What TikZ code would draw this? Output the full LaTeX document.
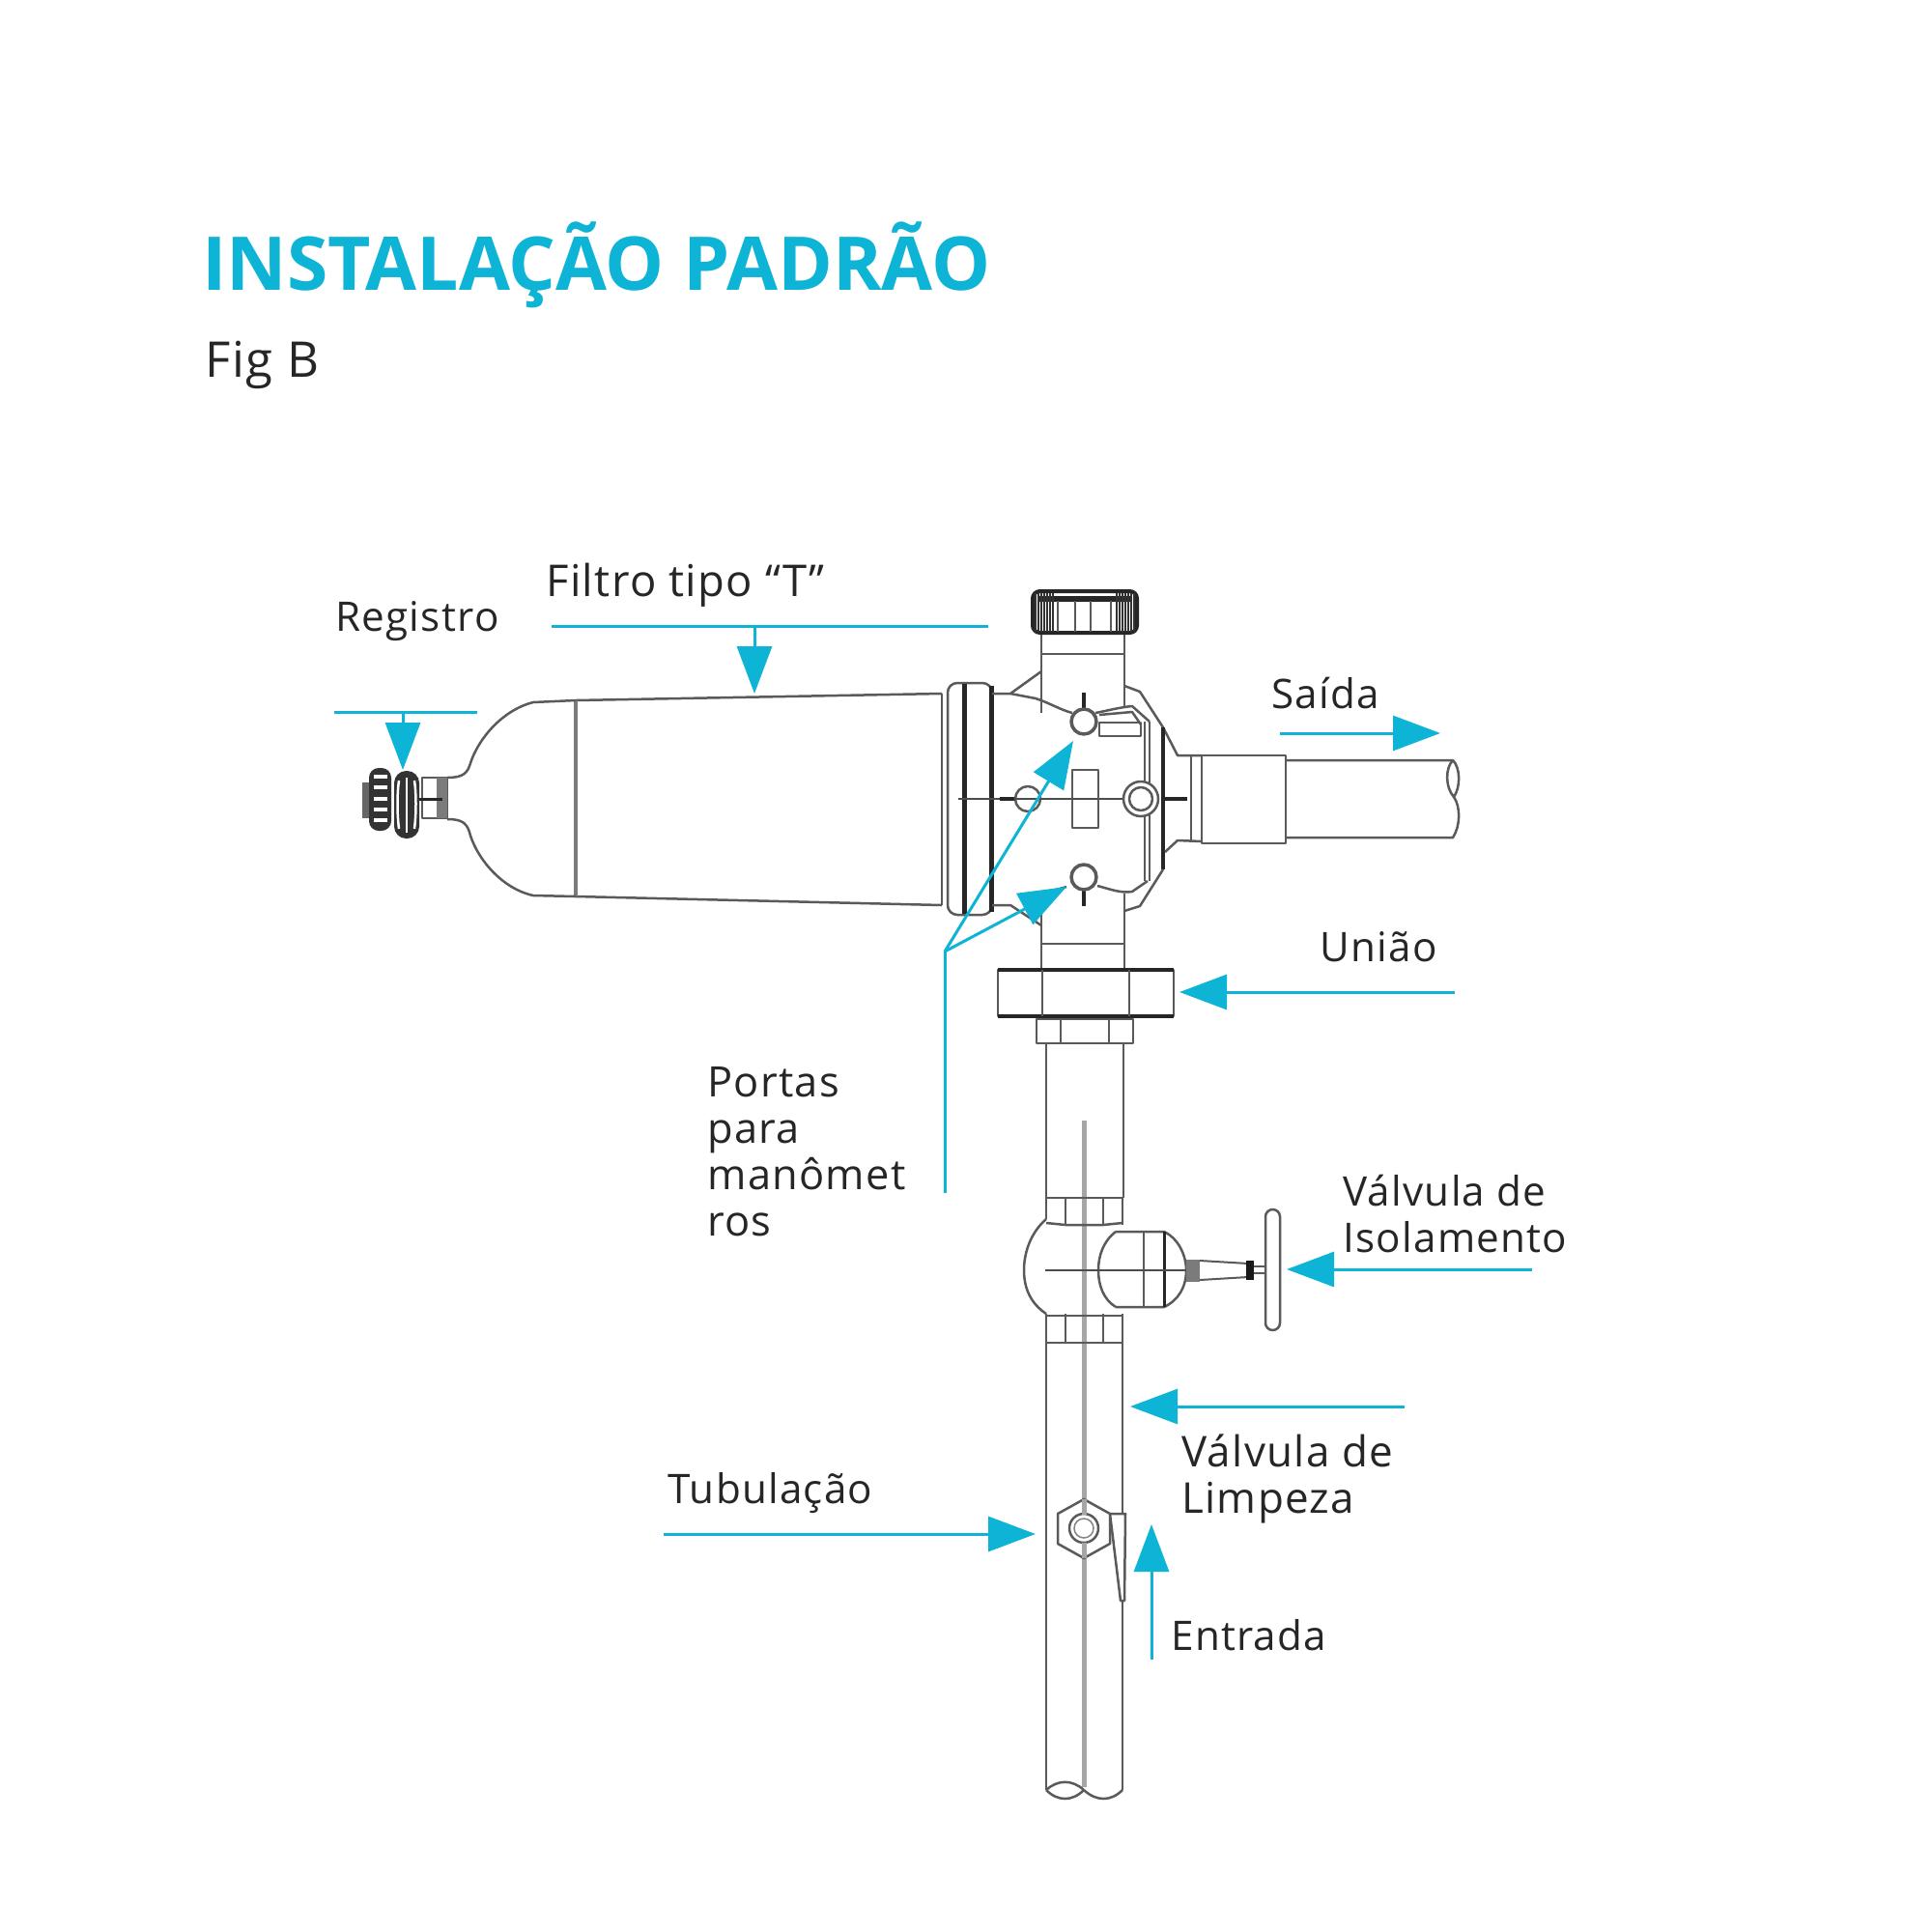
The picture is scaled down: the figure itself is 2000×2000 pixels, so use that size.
\documentclass[tikz,border=0pt]{standalone}
\usepackage{fontspec}
\setmainfont{Open Sans}
\newfontfamily\labfont[LetterSpace=3]{Open Sans}
\newfontfamily\titlefont{Open Sans}[BoldFont={Open Sans Bold}]
\usetikzlibrary{arrows.meta}
\definecolor{cy}{HTML}{0DB4D6}
\definecolor{ink}{HTML}{262626}
\definecolor{pg}{HTML}{5A5A5A}
\tikzset{
  pl/.style={draw=pg,line width=0.5mm,line join=round},
  pt/.style={draw=pg!75,line width=0.3mm},
  pb/.style={draw=black!85,line width=0.9mm},
  pc/.style={draw=black!35,line width=1mm},
  ctr/.style={draw=black!70,line width=0.35mm},
  bar/.style={draw=cy,line width=0.6mm},
  leader/.style={draw=cy,line width=0.6mm,-{Triangle[length=9.8mm,width=7.2mm]}},
  lab/.style={font=\labfont\fontsize{#1}{27.2}\selectfont,text=ink,anchor=base west,inner sep=0,align=left},
  lab/.default=24,
  ttl/.style={font=\titlefont\bfseries\fontsize{43.7}{50}\selectfont,text=cy,anchor=base west,inner sep=0}
}
\begin{document}
\begin{tikzpicture}[x=0.2mm,y=-0.2mm]
\useasboundingbox (0,0) rectangle (2000,2000);
\fill[white] (0,0) rectangle (2000,2000);

% === tank and dome ===
\draw[pl] (596,725) -- (975,718);
\draw[pl] (596,928) -- (975,937);
\draw[pl,draw=pg!80,line width=0.7mm] (596,725) -- (596,928);
\draw[pl] (596,725) -- (552,727) .. controls (520,735) and (495,765) .. (487,790) .. controls (484,800) and (480,805) .. (463,805);
\draw[pl] (596,928) -- (552,927) .. controls (520,920) and (495,890) .. (487,865) .. controls (484,853) and (480,848) .. (463,848);
% valve on the dome
\draw[pl] (437,805) rectangle (463,847);
\fill[pg!80] (452,805) rectangle (463,847);
\fill[white] (440,810) rectangle (452,823);
\fill[white] (440,832) rectangle (452,844);
\draw[pb,line width=0.6mm] (433,827) -- (458,827);
\fill[black!80,rounded corners=2.5mm] (408,798) rectangle (434,868);
\draw[white,line width=0.5mm] (413,808) .. controls (411,822) and (411,842) .. (413,858);
\draw[white,line width=0.5mm] (429,808) .. controls (431,822) and (431,842) .. (429,858);
\draw[white,line width=0.4mm] (421,805) -- (421,862);
\fill[black!60] (375,810) rectangle (383,847);
\fill[black!80,rounded corners=2mm] (382,795) rectangle (405,860);
\foreach \yy in {804,815,827,838,849}{\draw[white,line width=0.7mm] (387,\yy) -- (401,\yy);}

% === flange ===
\draw[pl] (975,718) -- (975,937);
\draw[pl,rounded corners=2mm] (981,707) rectangle (1027,947);
\draw[pl,draw=black!85,line width=1mm] (998,708) -- (998,946);
\draw[pl,draw=black!85,line width=1mm] (1026,710) -- (1026,944);

% === head body ===
\draw[pl] (1027,718) -- (1046,718) -- (1078,695);
\draw[pl] (1046,718) -- (1072,723) .. controls (1085,727) and (1098,735) .. (1110,738);
\draw[pl] (1134,738) .. controls (1145,736) and (1160,732) .. (1172,731) -- (1190,747);
\draw[pl] (1138,748) rectangle (1181,762);
\draw[pl] (1138,740) -- (1172,737) -- (1181,750);
\draw[pl] (1078,655) -- (1078,738);
\draw[pl] (1164,655) -- (1164,733);
\draw[pl] (1078,677) -- (1164,677);
\draw[pl] (1164,710) -- (1180,716) -- (1204,753) -- (1219,782) -- (1244,782);
\draw[pb,line width=0.7mm] (1204,753) -- (1204,900);
\draw[pl] (1185,747) -- (1185,912);
\draw[pl] (1190,747) -- (1190,912);
\draw[pl] (1204,900) -- (1180,938) -- (1164,943);
\draw[pl] (1206,882) -- (1219,870) -- (1244,871);
\draw[pl] (1104,918) .. controls (1095,921) and (1085,922) .. (1079,925);
\draw[pl] (1136,917) .. controls (1148,920) and (1160,925) .. (1172,923) -- (1188,912);
\draw[pl] (1027,937) -- (1046,937) -- (1078,958);
\draw[pl] (1078,925) -- (1078,1002);
\draw[pl] (1164,925) -- (1164,1002);
\draw[pl] (1078,977) -- (1164,977);
% ports
\draw[ctr] (992,827) -- (1165,827);
\draw[pb,line width=0.7mm] (1035,827) -- (1052,827);
\draw[pb,line width=0.7mm] (1206,827) -- (1229,827);
\draw[pl,fill=white] (1064,827) circle [radius=13];
\draw[ctr] (1050,827) -- (1078,827);
\draw[pl,fill=white] (1181,827) circle [radius=18];
\draw[pl,fill=white] (1181,827) circle [radius=12];
\draw[pl] (1110,797) rectangle (1137,857);
\draw[ctr] (1110,827) -- (1137,827);
\draw[pb,line width=0.8mm] (1122,717) -- (1122,735);
\draw[pl,line width=0.7mm,fill=white] (1122,747) circle [radius=13];
\draw[pb,line width=0.8mm] (1122,921) -- (1122,938);
\draw[pl,line width=0.7mm,fill=white] (1122,908) circle [radius=13];

% === cap ===
\draw[pb,line width=0.8mm,rounded corners=1.5mm,fill=white] (1069,612) rectangle (1177,655);
\draw[pb,line width=1.2mm] (1074,620) -- (1172,620);
\foreach \xx in {1072,1075,1078,1081,1084,1087,1090,1156,1159,1162,1165,1168,1171,1174}{\draw[draw=black!80,line width=0.35mm] (\xx,614) -- (\xx,654);}
\foreach \xx in {1095,1113,1129,1150}{\draw[pl] (\xx,622) -- (\xx,654);}

% === outlet pipe ===
\draw[pl] (1233,783) -- (1233,870);
\draw[pl] (1244,782) rectangle (1331,873);
\draw[pl] (1331,787) -- (1504,787) .. controls (1512,795) and (1512,815) .. (1505,825) .. controls (1512,835) and (1512,855) .. (1504,867) -- (1331,867);
\draw[pl] (1504,787) .. controls (1496,795) and (1496,815) .. (1505,825);

% === union ===
\draw[pl] (1033,1004) rectangle (1215,1052);
\draw[pb,line width=0.7mm] (1033,1004) -- (1215,1004) (1033,1052) -- (1215,1052);
\draw[pl] (1079,1004) -- (1079,1052);
\draw[pl] (1169,1004) -- (1169,1052);
\draw[pl] (1073,1055) rectangle (1173,1080);
\draw[pl] (1098,1055) -- (1098,1080);
\draw[pl] (1148,1055) -- (1148,1080);

% === vertical pipe ===
\draw[pl] (1083,1080) -- (1083,1240);
\draw[pl] (1163,1080) -- (1163,1240);
\draw[pc] (1122,1160) -- (1122,1850);
\draw[pl] (1083,1240) -- (1162,1240);
\draw[pl] (1083,1240) -- (1083,1262) (1162,1240) -- (1162,1268);
\draw[pl] (1103,1240) -- (1103,1268) (1142,1240) -- (1142,1268);
\draw[pl] (1083,1266) -- (1103,1268) -- (1142,1268) -- (1162,1266);
\draw[pl] (1083,1262) .. controls (1068,1275) and (1060,1295) .. (1060,1315) .. controls (1060,1335) and (1068,1350) .. (1083,1360);
\draw[pl] (1083,1362) -- (1162,1362);
\draw[pl] (1103,1360) -- (1103,1390) (1142,1360) -- (1142,1390);
\draw[pl] (1083,1360) -- (1083,1390) (1162,1360) -- (1162,1390);
\draw[pl] (1083,1390) -- (1162,1390);
% branch
\fill[white] (1140,1277) rectangle (1204,1351);
\draw[pl] (1155,1275) .. controls (1142,1285) and (1137,1300) .. (1137,1315) .. controls (1137,1330) and (1142,1345) .. (1155,1353);
\draw[pl] (1155,1275) -- (1205,1275) .. controls (1220,1282) and (1228,1300) .. (1228,1315) .. controls (1228,1332) and (1220,1346) .. (1205,1353) -- (1155,1353);
\draw[pl] (1184,1275) -- (1184,1353);
\draw[pb,line width=0.6mm] (1205,1275) -- (1205,1353);
\draw[ctr] (1082,1315) -- (1233,1315);
% stem and handwheel
\fill[pg!80] (1228,1304) rectangle (1242,1327);
\draw[pl,line width=0.4mm] (1242,1305) -- (1292,1308) (1242,1325) -- (1292,1322);
\fill[black!90] (1290,1305) rectangle (1298,1325);
\draw[pl,line width=0.3mm] (1298,1311) -- (1311,1311) (1298,1318) -- (1311,1318);
\draw[pl,rounded corners=1.5mm] (1310,1252) rectangle (1325,1377);

% === lower pipe ===
\draw[pl] (1083,1390) -- (1083,1853);
\draw[pl] (1162,1390) -- (1162,1853);
\draw[pl,fill=white] (1122,1552) -- (1149,1567) -- (1149,1598) -- (1122,1613) -- (1095,1598) -- (1095,1567) -- cycle;
\draw[pl] (1122,1582) circle [radius=15];
\draw[pt] (1122,1582) circle [radius=10];
\draw[pc] (1122,1552) -- (1122,1568) (1122,1597) -- (1122,1613);
\draw[pl,fill=white] (1149,1567) -- (1165,1567) -- (1164,1657) -- (1160,1657) -- cycle;
\draw[pl] (1083,1853) .. controls (1095,1842) and (1110,1842) .. (1122,1853);
\draw[pl] (1083,1853) .. controls (1095,1865) and (1110,1865) .. (1122,1853);
\draw[pl] (1122,1853) .. controls (1135,1865) and (1150,1865) .. (1162,1853);

% === text ===
\node[ttl] (title) at (209,300) {INSTALAÇÃO PADRÃO};
\node[lab=29] (figb) at (212,390) {Fig B};
\node[lab] (registro) at (347,653) {Registro};
\node[lab=25.8] (filtro) at (565,617) {Filtro tipo “T”};
\node[lab] (saida) at (1316,733) {Saída};
\node[lab] (uniao) at (1366,995) {União};
\node[lab=24.7] (portas) at (732,1279) {Portas\\para\\manômet\\ros};
\node[lab] (isol) at (1390,1296) {Válvula de\\Isolamento};
\node[lab=25] (limpeza) at (1223,1566) {Válvula de\\Limpeza};
\node[lab] (tubo) at (691,1556) {Tubulação};
\node[lab] (entrada) at (1212,1708) {Entrada};

% === leaders ===
\coordinate (regL) at (346,737);
\coordinate (regR) at (494,737);
\coordinate (regM) at (417,737);
\coordinate (regT) at (417,797);
\draw[bar] (regL) -- (regR);
\draw[leader] (regM) -- (regT);
\coordinate (filL) at (571,648);
\coordinate (filR) at (1023,648);
\coordinate (filM) at (781,648);
\coordinate (filT) at (781,718);
\draw[bar] (filL) -- (filR);
\draw[leader] (filM) -- (filT);
\coordinate (saiA) at (1325,759);
\coordinate (saiB) at (1491,759);
\draw[leader] (saiA) -- (saiB);
\coordinate (uniA) at (1506,1027);
\coordinate (uniB) at (1221,1027);
\draw[leader] (uniA) -- (uniB);
\coordinate (porA) at (978,1235);
\coordinate (porJ) at (978,985);
\coordinate (porT) at (1111,767);
\coordinate (porU) at (1104,918);
\draw[bar,line join=round] (porA) -- (porJ);
\draw[leader] (porJ) -- (porT);
\draw[leader] (porJ) -- (porU);
\coordinate (isoA) at (1586,1314);
\coordinate (isoB) at (1332,1314);
\draw[leader] (isoA) -- (isoB);
\coordinate (limA) at (1454,1456);
\coordinate (limB) at (1170,1456);
\draw[leader] (limA) -- (limB);
\coordinate (tubA) at (687,1588);
\coordinate (tubB) at (1072,1588);
\draw[leader] (tubA) -- (tubB);
\coordinate (entA) at (1192,1718);
\coordinate (entB) at (1192,1578);
\draw[leader] (entA) -- (entB);
\end{tikzpicture}
\end{document}
